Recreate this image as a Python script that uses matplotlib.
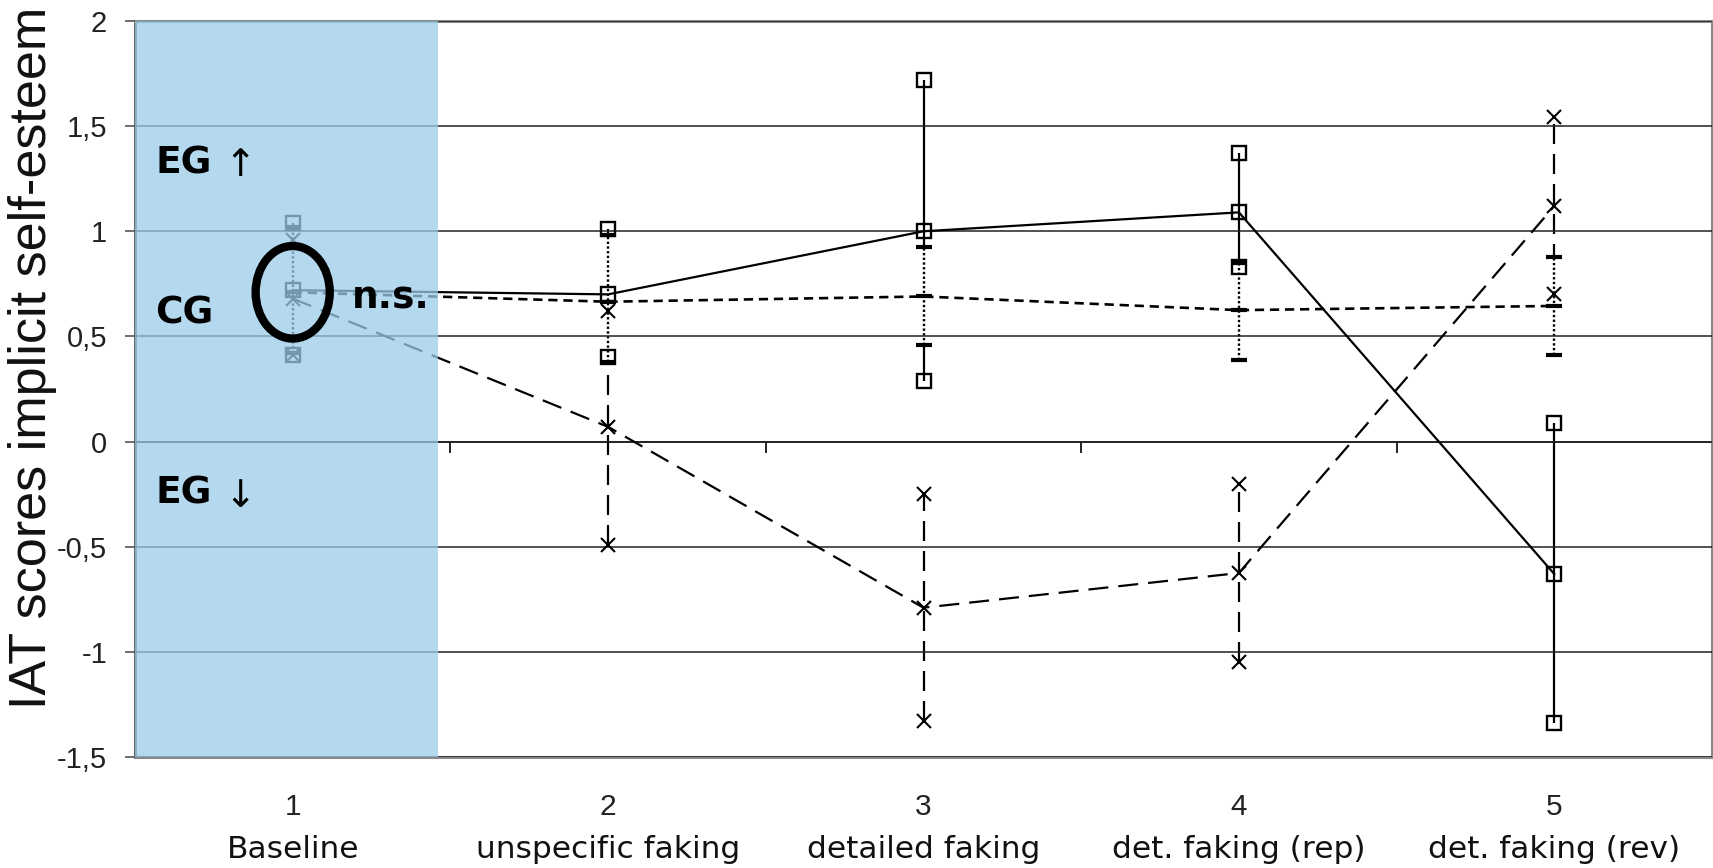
import numpy as np
import matplotlib.pyplot as plt
from matplotlib.patches import Ellipse
from matplotlib.ticker import FuncFormatter

plt.rcParams['font.family'] = ['Liberation Sans', 'DejaVu Sans']

# data
cats = [1, 2, 3, 4, 5]
names = ['Baseline', 'unspecific faking', 'detailed faking',
         'det. faking (rep)', 'det. faking (rev)']

eg_up_mean = [0.72, 0.70, 1.00, 1.09, -0.63]
eg_up_lo = [0.41, 0.40, 0.29, 0.83, -1.34]
eg_up_hi = [1.04, 1.01, 1.72, 1.37, 0.09]

cg_mean = [0.71, 0.665, 0.69, 0.625, 0.645]
cg_lo = [0.42, 0.38, 0.46, 0.39, 0.41]
cg_hi = [1.02, 0.98, 0.925, 0.85, 0.88]

eg_down_mean = [0.68, 0.07, -0.79, -0.625, 1.12]
eg_down_lo = [0.41, -0.49, -1.33, -1.05, 0.70]
eg_down_hi = [0.96, 0.62, -0.25, -0.20, 1.545]

baseline_span = (0.5, 1.462)

fig = plt.figure(figsize=(17.13, 8.68), dpi=100)
ax = fig.add_axes([135/1713, 1-757/868, (1712-135)/1713, (757-21)/868])
ax.set_xlim(0.5, 5.5)
ax.set_ylim(-1.5, 2)

dash = (0, (9, 4.5))
dot = (0, (1, 1))

# error bars
ax.vlines(cats, eg_down_lo, eg_down_hi, color='k', lw=1.6, linestyles=[dash], zorder=2.0)
ax.vlines(cats, eg_up_lo, eg_up_hi, color='k', lw=1.6, zorder=2.1)
ax.vlines(cats, cg_lo, cg_hi, color='white', lw=2.7, zorder=2.2)
ax.vlines(cats, cg_lo, cg_hi, color='k', lw=1.7, linestyles=[dot], zorder=2.3)

# means + ends
ax.plot(cats, eg_down_mean, color='k', lw=1.6, dashes=(9, 4.5), marker='x',
        ms=10, mew=1.5, zorder=3)
for v in (eg_down_lo, eg_down_hi):
    ax.plot(cats, v, ls='none', marker='x', ms=10, mew=1.5, color='k', zorder=3)

ax.plot(cats, cg_mean, color='k', lw=1.9, dashes=(3.5, 2.2), marker='_',
        ms=12, mew=3, zorder=3.1)
for v in (cg_lo, cg_hi):
    ax.plot(cats, v, ls='none', marker='_', ms=12, mew=3, color='k', zorder=3.1)

ax.plot(cats, eg_up_mean, color='k', lw=1.6, marker='s', ms=10, mfc='none',
        mew=1.7, zorder=3.2)
for v in (eg_up_lo, eg_up_hi):
    ax.plot(cats, v, ls='none', marker='s', ms=10, mfc='none', mew=1.7,
            color='k', zorder=3.2)

ax.axvspan(*baseline_span, fc=(155/255, 203/255, 231/255), alpha=0.75,
           lw=0, zorder=6)

# axes styling
ax.set_axisbelow(False)
ax.yaxis.grid(True, color='#222', lw=1.1)
ax.set_yticks(np.arange(-1.5, 2.01, 0.5))
ax.yaxis.set_major_formatter(FuncFormatter(lambda v, p: f'{v:g}'.replace('.', ',')))
ax.tick_params(axis='y', length=7, width=1.2, color='#555', pad=13,
               labelsize=21, labelcolor='#222')
ax.set_xticks(cats, [str(c) for c in cats])
ax.tick_params(axis='x', length=0, pad=26, labelsize=21.5, labelcolor='#222')
for s in ('top', 'right', 'bottom'):
    ax.spines[s].set_color('#888')
    ax.spines[s].set_linewidth(2.2)
ax.spines['left'].set_color('#555')
ax.spines['left'].set_linewidth(2)

sec = ax.secondary_xaxis(1.5/3.5)
sec.set_xticks([1.5, 2.5, 3.5, 4.5])
sec.tick_params(direction='out', length=8, width=1.2, color='k',
                labelbottom=False, labeltop=False)
for s in sec.spines.values():
    s.set_color('k')
    s.set_linewidth(1.1)

for c, n in zip(cats, names):
    ax.text(c, -0.1372, n, transform=ax.get_xaxis_transform(), ha='center',
            va='baseline', fontsize=22.5, family='DejaVu Sans', color='#111')

bold = dict(family='DejaVu Sans', fontweight='bold', fontsize=27, color='k',
            va='baseline', zorder=8)
ax.text(0.565, 1.276, 'EG', ha='left', **bold)
ax.text(0.565, 0.562, 'CG', ha='left', **bold)
ax.text(0.565, -0.295, 'EG', ha='left', **bold)
ax.text(1.189, 0.633, 'n.s.', ha='left', **bold)
ax.text(0.832, 1.262, '↑', family='DejaVu Sans', fontsize=27, ha='center',
        va='baseline', zorder=8)
ax.text(0.832, -0.31, '↓', family='DejaVu Sans', fontsize=27, ha='center',
        va='baseline', zorder=8)

ax.add_patch(Ellipse((1, 0.71), 0.235, 0.44, fill=False, ec='k', lw=6, zorder=8))

fig.text(33/1713, 1-358/868, 'IAT scores implicit self-esteem', rotation=90,
         ha='center', va='center', fontsize=37.5, color='#111')

fig.savefig('out.png', dpi=100)
